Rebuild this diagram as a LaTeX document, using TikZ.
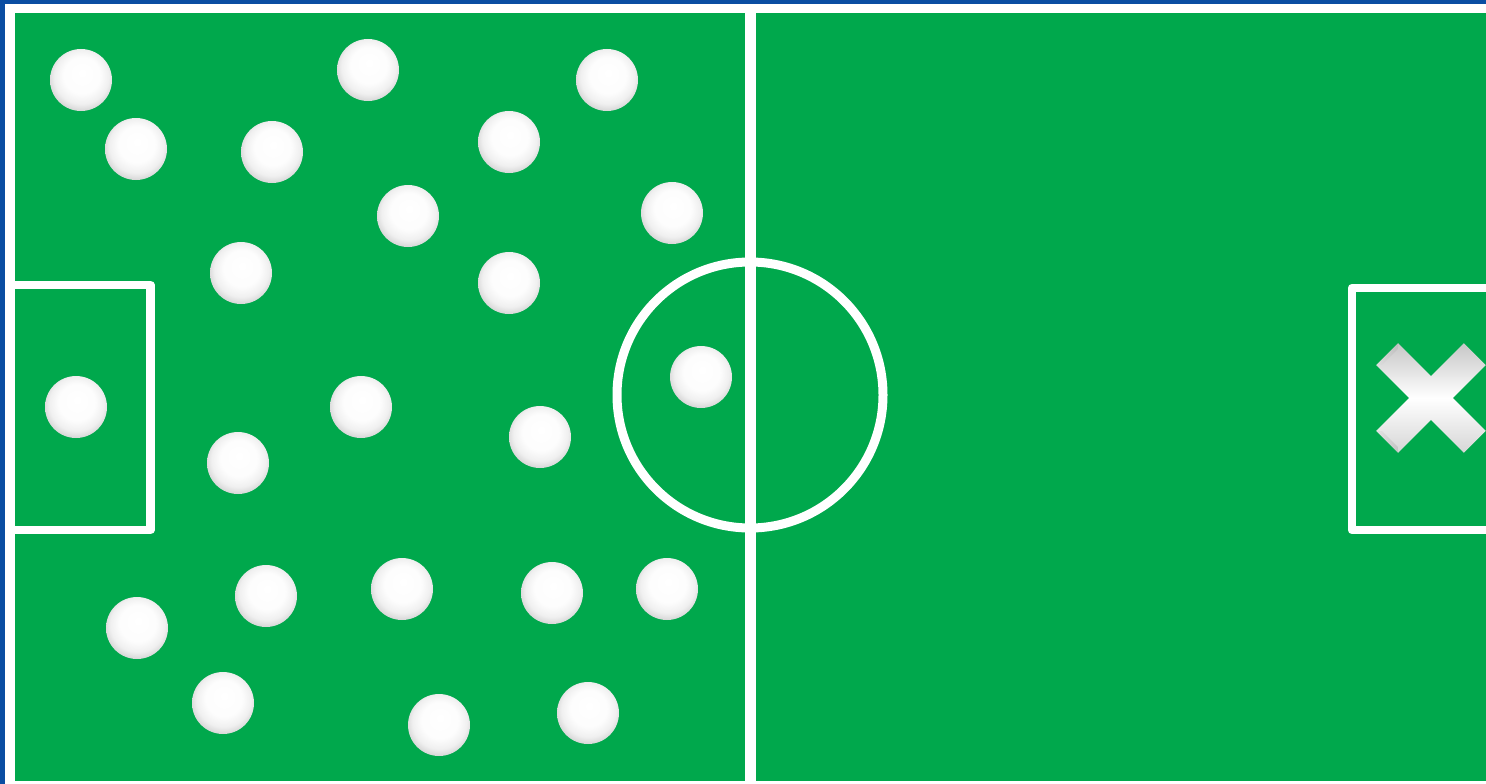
\documentclass[tikz,border=0pt]{standalone}
\usetikzlibrary{calc}
\definecolor{pitch}{RGB}{0,168,76}
\definecolor{frameblue}{RGB}{10,77,162}
\pgfdeclareradialshading{ballshade}{\pgfpoint{1bp}{6bp}}{%
  color(0bp)=(white);
  color(15bp)=(white!99!black);
  color(22bp)=(white!94!black);
  color(27bp)=(white!84!black);
  color(31bp)=(white!68!black);
  color(40bp)=(white!60!black)}
\tikzset{
  fieldline/.style={draw=white,line width=8.5pt,line join=round},
  ballstyle/.style={shading=ballshade},
}
\begin{document}
\begin{tikzpicture}[x=1pt,y=-1pt]
\useasboundingbox (0,0) rectangle (1486,784);
% frame
\fill[frameblue] (0,0) rectangle (1486,784);
\fill[white] (5,4) rectangle (1486,784);
\fill[pitch] (15,13) rectangle (1486,781);
% lines
\draw[draw=white,line width=11pt] (750,13) -- (750,781);
\draw[draw=white,line width=9pt] (750,395) circle[radius=133pt];
\draw[fieldline] (15,285) -- (150.5,285) -- (150.5,530) -- (15,530);
\draw[fieldline] (1495,288) -- (1352,288) -- (1352,530) -- (1495,530);
% balls
\foreach \bx/\by in {81/80,136/149,272/152,368/70,509/142,607/80,408/216,672/213,
  241/273,509/283,76/407,361/407,701/377,540/437,238/463,137/628,266/596,
  402/589,552/593,667/589,223/703,439/725,588/713}
  \shade[ballstyle] (\bx,\by) circle[radius=31pt];
% X mark
\foreach \ang in {45,-45}{
  \begin{scope}[shift={(1431,398)},rotate=\ang]
    \shade[top color=white!78!black,bottom color=white!84!black,middle color=white]
      (-62,-15.5) rectangle (62,15.5);
    \shade[left color=white!88!black,right color=white!72!black,opacity=0.6]
      (-62,-15.5) -- (-58,-11) -- (-58,11) -- (-62,15.5) -- cycle;
  \end{scope}
}
\end{tikzpicture}
\end{document}
